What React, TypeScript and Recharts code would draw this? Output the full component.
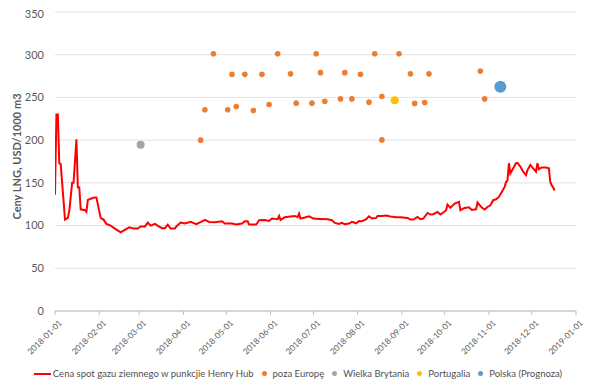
import React from "react";
import { ComposedChart, Line, Scatter, XAxis, YAxis, CartesianGrid, Legend } from "recharts";

const START = Date.UTC(2018, 0, 1);
const dayOf = (s: string) => Math.round((Date.parse(s) - START) / 86400000);

const tickLabels = [
  "2018-01-01", "2018-02-01", "2018-03-01", "2018-04-01", "2018-05-01", "2018-06-01", "2018-07-01",
  "2018-08-01", "2018-09-01", "2018-10-01", "2018-11-01", "2018-12-01", "2019-01-01",
];
const yTicks = [0, 50, 100, 150, 200, 250, 300, 350];

// Henry Hub spot price (days since 2018-01-01)
const hhDays = [
  0, 1, 2, 3, 4, 7, 9, 10, 12, 13, 15, 16, 17, 18, 21, 22, 23, 26, 28, 29, 32, 34, 36, 39, 42, 46, 48, 52, 55, 58,
  60, 63, 65, 67, 70, 72, 75, 77, 79, 81, 84, 85, 88, 91, 95, 99, 103, 105, 108, 112, 117, 119, 124, 127, 131, 133,
  135, 136, 141, 143, 147, 150, 152, 156, 157, 158, 161, 165, 168, 170, 171, 172, 175, 178, 181, 185, 191, 194, 196,
  199, 201, 203, 206, 208, 211, 213, 215, 218, 220, 222, 225, 226, 229, 232, 235, 239, 242, 247, 249, 251, 254, 256,
  258, 261, 263, 265, 268, 270, 272, 274, 275, 277, 280, 283, 284, 287, 290, 292, 295, 296, 299, 301, 303, 305, 307,
  309, 311, 313, 315, 316, 317, 318, 319, 321, 323, 324, 326, 328, 330, 331, 333, 335, 337, 338, 339, 341, 344, 346,
  347, 348, 349, 350,
];
const hhPrices = [
  136, 230, 230, 173, 172, 107, 109, 117, 150, 150, 201, 145, 145, 119, 118, 116, 130, 132, 133, 133, 109, 107, 102, 100,
  96.5, 92, 94, 98, 96.5, 96.5, 99, 99, 103.5, 100, 102, 99.6, 97, 97, 101, 96.5, 96.5, 99, 103.5, 102.4, 104.3, 101.6,
  105, 106.6, 104.3, 103.9, 105, 102.4, 102.4, 101.2, 102.4, 105, 105, 101.2, 101.2, 106.2, 106.6, 105.4, 108.2, 107.4,
  111.3, 106.6, 109.8, 110.6, 111.3, 109.8, 114, 108.2, 109.4, 110.9, 108.2, 107.8, 107.4, 106.2, 103.1, 101.9, 103.1,
  101.6, 102.4, 104.3, 102.7, 105.4, 105, 107.4, 110.9, 108.2, 109, 111.3, 111.3, 111.7, 110.6, 109.8, 109.8, 109, 107,
  107, 110.1, 107.4, 108.2, 114.8, 112.9, 113.3, 116, 112.9, 115.3, 118, 124.6, 120.7, 125.8, 127.7, 118, 120.7, 121.5,
  118.3, 119.1, 127, 121.1, 118.8, 121.8, 123.8, 129.7, 130.8, 133.5, 139.4, 145.3, 151, 153, 173, 161, 167, 173, 173.4,
  169, 163, 159, 165, 171, 167, 163, 173, 166, 168, 168, 167, 151, 147, 144.5, 141,
];

// LNG prices outside Europe
const outsideEuropeDays = [
  111, 156, 183, 224, 241, 124, 133, 145, 165, 186, 203, 214, 249, 262, 298, 105, 121, 127, 139, 150, 169, 180, 189, 200,
  208, 220, 229, 252, 259, 301, 102, 229,
];
const outsideEuropePrices = [
  301, 301, 301, 301, 301, 277, 277, 277, 277.6, 279, 279, 277, 277.6, 277.6, 280.8, 235.5, 235.5, 239.4, 234.7, 241.8,
  243.3, 243.3, 245.6, 248.3, 248.3, 244.5, 251, 243, 244, 248.3, 200, 200.3,
];
const ukDays = [60];
const ukPrices = [194.5];
const portugalDays = [238];
const portugalPrices = [246.8];
const polandDays = [312];
const polandPrices = [262.4];

const toRows = (days: number[], vals: number[]) => days.map((d, i) => ({ day: d, value: vals[i] }));

const hhData = toRows(hhDays, hhPrices);
const outsideData = toRows(outsideEuropeDays, outsideEuropePrices);
const ukData = toRows(ukDays, ukPrices);
const ptData = toRows(portugalDays, portugalPrices);
const plData = toRows(polandDays, polandPrices);

const xTicks = tickLabels.map(dayOf);
const labelByDay: Record<number, string> = {};
tickLabels.forEach((l) => (labelByDay[dayOf(l)] = l));

const FONT = "Lato, 'Open Sans', sans-serif";
const TEXT = "#595959";

const dot = (r: number, color: string) => (props: any) =>
  <circle cx={props.cx} cy={props.cy} r={r} fill={color} />;

const XTick = (props: any) => {
  const { x, y, payload } = props;
  return (
    <g transform={`translate(${x + 3},${y + 2})`}>
      <text x={0} y={0} textAnchor="end" transform="rotate(-45)" fontSize={8.3} fill={TEXT} fontFamily={FONT} dominantBaseline="hanging">
        {labelByDay[payload.value]}
      </text>
    </g>
  );
};

const legendItems = [
  { name: "Cena spot gazu ziemnego w punkcjie Henry Hub", color: "#ff0000", kind: "line" },
  { name: "poza Europę", color: "#ED7D31", kind: "dot" },
  { name: "Wielka Brytania", color: "#A5A5A5", kind: "dot" },
  { name: "Portugalia", color: "#FFC000", kind: "dot" },
  { name: "Polska (Prognoza)", color: "#5B9BD5", kind: "dot" },
];

const LegendContent = () => (
  <div style={{ display: "flex", justifyContent: "center", alignItems: "center", fontFamily: FONT, fontSize: 9.5, color: "#505050", whiteSpace: "nowrap" }}>
    {legendItems.map((it, i) => (
      <div key={i} style={{ display: "flex", alignItems: "center", marginLeft: i === 0 ? 0 : 8 }}>
        {it.kind === "line" ? (
          <span style={{ display: "inline-block", width: 17, height: 2, background: it.color, marginRight: 2 }} />
        ) : (
          <span style={{ display: "inline-block", width: 5, height: 5, borderRadius: 3, background: it.color, marginRight: 6 }} />
        )}
        <span>{it.name}</span>
      </div>
    ))}
  </div>
);

export default function App() {
  return (
    <ComposedChart width={580} height={381} margin={{ top: 4, right: 12, left: 7, bottom: 30 }}>
      <CartesianGrid vertical={false} stroke="#e3e3e3" />
      <XAxis
        type="number"
        dataKey="day"
        domain={[0, 365]}
        ticks={xTicks}
        interval={0}
        height={48}
        stroke="#bfbfbf"
        tickSize={4}
        tickMargin={2}
        tick={<XTick />}
        allowDataOverflow
      />
      <YAxis
        type="number"
        dataKey="value"
        domain={[0, 350]}
        ticks={yTicks}
        width={40}
        axisLine={false}
        tickLine={false}
        tickSize={6}
        tickMargin={5}
        tick={{ fontSize: 11, fill: TEXT, fontFamily: FONT }}
        label={{
          value: "Ceny LNG, USD/1000 m3",
          angle: -90,
          position: "insideLeft",
          dx: -3,
          dy: 58,
          style: { fontSize: 11, fill: TEXT, fontFamily: FONT, fontWeight: 700 },
        }}
      />
      <Line data={hhData} dataKey="value" type="linear" stroke="#ff0000" strokeWidth={2} dot={false} isAnimationActive={false} name="Cena spot gazu ziemnego w punkcjie Henry Hub" />
      <Scatter data={outsideData} dataKey="value" fill="#ED7D31" shape={dot(2.8, "#ED7D31")} isAnimationActive={false} name="poza Europę" />
      <Scatter data={ukData} dataKey="value" fill="#A5A5A5" shape={dot(4, "#A5A5A5")} isAnimationActive={false} name="Wielka Brytania" />
      <Scatter data={ptData} dataKey="value" fill="#FFC000" shape={dot(4, "#FFC000")} isAnimationActive={false} name="Portugalia" />
      <Scatter data={plData} dataKey="value" fill="#5B9BD5" shape={dot(6, "#5B9BD5")} isAnimationActive={false} name="Polska (Prognoza)" />
      <Legend verticalAlign="middle" layout="horizontal" content={<LegendContent />} wrapperStyle={{ top: 360, left: 0, width: 580 }} />
    </ComposedChart>
  );
}
